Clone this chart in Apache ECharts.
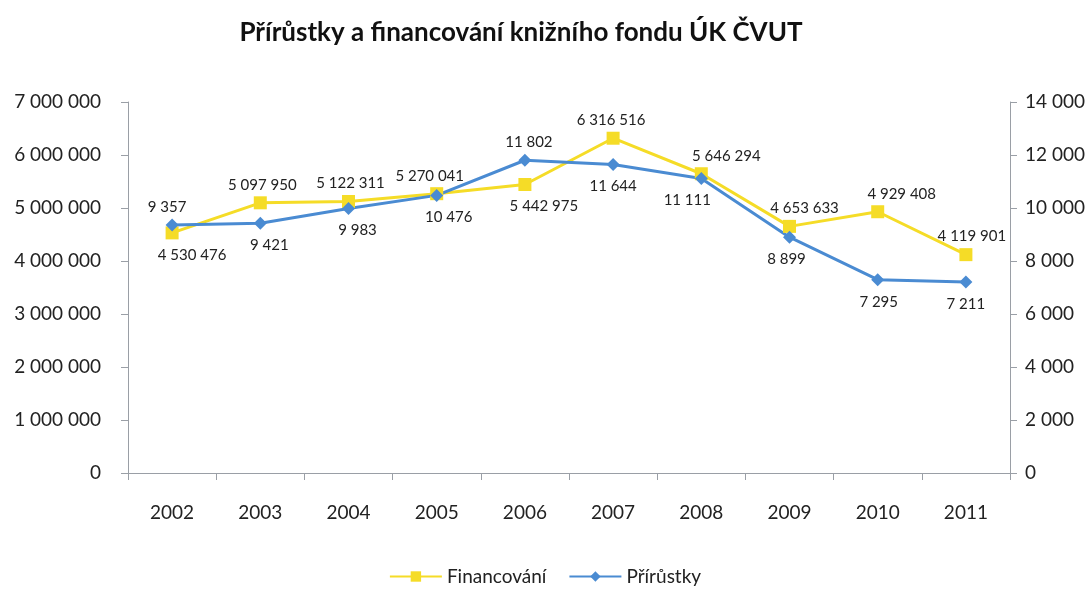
<!DOCTYPE html>
<html>
<head>
<meta charset="utf-8">
<script src="https://cdn.jsdelivr.net/npm/echarts@6/dist/echarts.min.js"></script>
<style>
  html, body { margin: 0; padding: 0; background: #fff; }
  #chart { width: 1090px; height: 590px; }
</style>
</head>
<body>
<div id="chart"></div>
<script>
const years = ['2002', '2003', '2004', '2005', '2006', '2007', '2008', '2009', '2010', '2011'];
const financovani = [4530476, 5097950, 5122311, 5270041, 5442975, 6316516, 5646294, 4653633, 4929408, 4119901];
const prirustky = [9357, 9421, 9983, 10476, 11802, 11644, 11111, 8899, 7295, 7211];

// where the value labels sit, as in the original
const finLabelPos = ['bottom', 'top', 'top', 'top', 'bottom', 'top', 'top', 'top', 'top', 'top'];
const finLabelDx = [20, 2, 2, -7, 19, -2, 25, 15, 24, 6];
const priLabelPos = ['top', 'bottom', 'bottom', 'bottom', 'top', 'bottom', 'bottom', 'bottom', 'bottom', 'bottom'];
const priLabelDx = [-5, 9, 9, 12, 4, 0, -14, -3, 1, 0];

const fontFam = 'Lato, "Open Sans", sans-serif';
const yellow = '#F5DC27';
const blue = '#4A8BD2';

function fmt(v) {
    return String(v).replace(/\B(?=(\d{3})+(?!\d))/g, ' ');
}

function labelFor(pos, dx) {
    return { position: pos, offset: [dx, 0], distance: pos === 'top' ? 4 : 8 };
}

const chart = echarts.init(document.getElementById('chart'));

chart.setOption({
    animation: false,
    title: {
        text: 'Přírůstky a financování knižního fondu ÚK ČVUT',
        left: 516,
        textAlign: 'center',
        top: 15,
        textStyle: { fontFamily: fontFam, fontSize: 26, fontWeight: 'bold', color: '#111' }
    },
    legend: {
        bottom: -1,
        left: 'center',
        itemWidth: 52,
        itemHeight: 13,
        itemGap: 22,
        textStyle: { fontFamily: fontFam, fontSize: 19, color: '#222' },
        data: ['Financování', 'Přírůstky']
    },
    grid: { left: 128, right: 80, top: 102, bottom: 117 },
    xAxis: {
        type: 'category',
        data: years,
        boundaryGap: true,
        axisLine: { lineStyle: { color: '#9a9fa6', width: 1 } },
        axisTick: { show: true, length: 7, lineStyle: { color: '#9a9fa6' } },
        axisLabel: { margin: 30, fontFamily: fontFam, fontSize: 19, color: '#222' }
    },
    yAxis: [
        {
            type: 'value',
            min: 0,
            max: 7000000,
            interval: 1000000,
            splitLine: { show: false },
            axisLine: { show: true, lineStyle: { color: '#9a9fa6' } },
            axisTick: { show: true, length: 7, lineStyle: { color: '#9a9fa6' } },
            axisLabel: { margin: 27, fontFamily: fontFam, fontSize: 19, color: '#222', formatter: fmt }
        },
        {
            type: 'value',
            min: 0,
            max: 14000,
            interval: 2000,
            splitLine: { show: false },
            axisLine: { show: true, lineStyle: { color: '#9a9fa6' } },
            axisTick: { show: true, length: 7, lineStyle: { color: '#9a9fa6' } },
            axisLabel: { margin: 15, fontFamily: fontFam, fontSize: 19, color: '#222', formatter: fmt }
        }
    ],
    series: [
        {
            name: 'Financování',
            type: 'line',
            yAxisIndex: 0,
            symbol: 'rect',
            symbolSize: 13,
            lineStyle: { color: yellow, width: 3 },
            itemStyle: { color: yellow },
            label: {
                show: true,
                fontFamily: fontFam,
                fontSize: 15,
                color: '#222',
                formatter: p => fmt(p.value)
            },
            data: financovani.map((v, i) => ({
                value: v,
                label: labelFor(finLabelPos[i], finLabelDx[i])
            }))
        },
        {
            name: 'Přírůstky',
            type: 'line',
            yAxisIndex: 1,
            symbol: 'diamond',
            symbolSize: 13,
            lineStyle: { color: blue, width: 3 },
            itemStyle: { color: blue },
            label: {
                show: true,
                fontFamily: fontFam,
                fontSize: 15,
                color: '#222',
                formatter: p => fmt(p.value)
            },
            data: prirustky.map((v, i) => ({
                value: v,
                label: labelFor(priLabelPos[i], priLabelDx[i])
            }))
        }
    ]
});
</script>
</body>
</html>
